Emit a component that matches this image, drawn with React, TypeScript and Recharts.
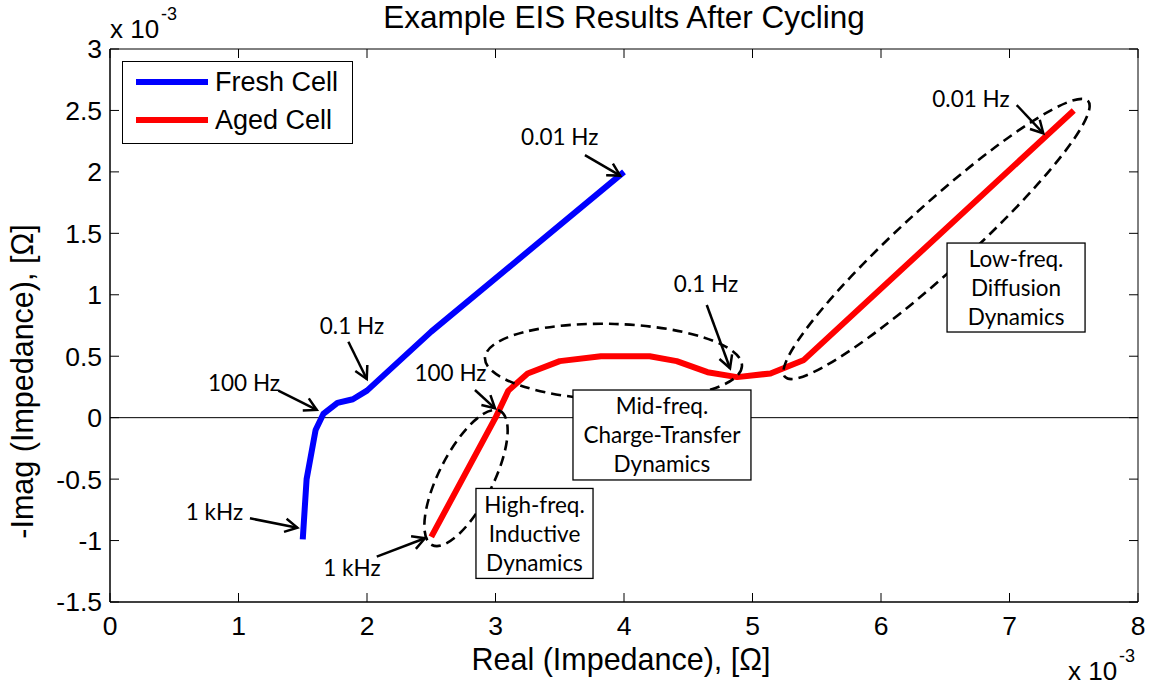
import React from 'react';
import { LineChart, Line, XAxis, YAxis, ReferenceLine, ReferenceDot, Legend } from 'recharts';

// Axis ticks (values in units of 1e-3 Ohm)
const xTicks = [0, 1, 2, 3, 4, 5, 6, 7, 8];
const yTicks = [-1.5, -1, -0.5, 0, 0.5, 1, 1.5, 2, 2.5, 3];

// Series names, in legend order
const seriesNames = ['Fresh Cell', 'Aged Cell'];

// Nyquist curves: real part vs. negative imaginary part
const freshCell = [
  { x: 1.5, y: -0.99 },
  { x: 1.53, y: -0.5 },
  { x: 1.6, y: -0.1 },
  { x: 1.66, y: 0.03 },
  { x: 1.77, y: 0.12 },
  { x: 1.89, y: 0.15 },
  { x: 2.0, y: 0.22 },
  { x: 2.5, y: 0.7 },
  { x: 4.0, y: 2.0 },
];

const agedCell = [
  { x: 2.5, y: -0.97 },
  { x: 3.0, y: 0.0 },
  { x: 3.1, y: 0.22 },
  { x: 3.25, y: 0.36 },
  { x: 3.5, y: 0.46 },
  { x: 3.82, y: 0.5 },
  { x: 4.2, y: 0.5 },
  { x: 4.41, y: 0.46 },
  { x: 4.65, y: 0.37 },
  { x: 4.88, y: 0.33 },
  { x: 5.14, y: 0.36 },
  { x: 5.26, y: 0.41 },
  { x: 5.4, y: 0.47 },
  { x: 7.5, y: 2.5 },
];

// Frequency call-outs (text centre, data units)
const freqLabels = [
  { text: '0.01 Hz', x: 3.5, y: 2.284 },
  { text: '0.1 Hz', x: 1.883, y: 0.754 },
  { text: '100 Hz', x: 1.043, y: 0.283 },
  { text: '1 kHz', x: 0.813, y: -0.767 },
  { text: '1 kHz', x: 1.883, y: -1.223 },
  { text: '100 Hz', x: 2.65, y: 0.364 },
  { text: '0.1 Hz', x: 4.638, y: 1.088 },
  { text: '0.01 Hz', x: 6.7, y: 2.601 },
];

// Arrows from each call-out to its point on the curve
const arrows = [
  { x1: 3.696, y1: 2.137, x2: 3.97, y2: 1.97 },
  { x1: 1.855, y1: 0.618, x2: 1.998, y2: 0.315 },
  { x1: 1.31, y1: 0.22, x2: 1.609, y2: 0.063 },
  { x1: 1.089, y1: -0.819, x2: 1.458, y2: -0.895 },
  { x1: 2.076, y1: -1.131, x2: 2.451, y2: -0.981 },
  { x1: 2.84, y1: 0.225, x2: 2.996, y2: 0.076 },
  { x1: 4.644, y1: 0.917, x2: 4.825, y2: 0.402 },
  { x1: 7.056, y1: 2.544, x2: 7.263, y2: 2.314 },
];

// Dashed regions: ends of the long axis in data units, half-width in px
const regions = [
  { x1: 2.506, y1: -1.036, x2: 3.035, y2: 0.054, halfWidth: 27 },
  { x1: 2.918, y1: 0.486, x2: 4.918, y2: 0.421, halfWidth: 38 },
  { x1: 5.253, y1: 0.331, x2: 7.611, y2: 2.577, halfWidth: 33 },
];

// Boxed descriptions of each frequency region
const notes = [
  { x1: 2.848, y1: -0.576, x2: 3.759, y2: -1.308, lines: ['High-freq.', 'Inductive', 'Dynamics'] },
  { x1: 3.603, y1: 0.225, x2: 4.988, y2: -0.507, lines: ['Mid-freq.', 'Charge-Transfer', 'Dynamics'] },
  { x1: 6.514, y1: 1.421, x2: 7.588, y2: 0.697, lines: ['Low-freq.', 'Diffusion', 'Dynamics'] },
];

const AXIS_FONT = '"Liberation Sans", Arial, sans-serif';
const NOTE_FONT = 'Lato, "Open Sans", sans-serif';
const NOTE_SIZE = 22.5;
const TICK_LEN = 9;

// Short inward tick stubs at both ends of a full-span reference line
const TickStubs = (p: any) => {
  const { x1, y1, x2, y2 } = p;
  const vertical = Math.abs(x2 - x1) < Math.abs(y2 - y1);
  if (vertical) {
    const top = Math.min(y1, y2);
    const bottom = Math.max(y1, y2);
    return (
      <g stroke="#000" strokeWidth={1}>
        <line x1={x1} y1={top} x2={x1} y2={top + TICK_LEN} />
        <line x1={x1} y1={bottom} x2={x1} y2={bottom - TICK_LEN} />
      </g>
    );
  }
  const left = Math.min(x1, x2);
  const right = Math.max(x1, x2);
  return (
    <g stroke="#000" strokeWidth={1}>
      <line x1={left} y1={y1} x2={left + TICK_LEN} y2={y1} />
      <line x1={right} y1={y1} x2={right - TICK_LEN} y2={y1} />
    </g>
  );
};

const ArrowShape = (p: any) => {
  const { x1, y1, x2, y2 } = p;
  const a = Math.atan2(y2 - y1, x2 - x1);
  const len = 14;
  const spread = 0.5;
  const hx1 = x2 - len * Math.cos(a - spread);
  const hy1 = y2 - len * Math.sin(a - spread);
  const hx2 = x2 - len * Math.cos(a + spread);
  const hy2 = y2 - len * Math.sin(a + spread);
  return (
    <g>
      <line x1={x1} y1={y1} x2={x2} y2={y2} stroke="#000" strokeWidth={2.5} />
      <polyline
        points={`${hx1},${hy1} ${x2},${y2} ${hx2},${hy2}`}
        fill="none"
        stroke="#000"
        strokeWidth={2.5}
      />
    </g>
  );
};

const makeEllipse = (halfWidth: number) => (p: any) => {
  const { x1, y1, x2, y2 } = p;
  const cx = (x1 + x2) / 2;
  const cy = (y1 + y2) / 2;
  const rx = Math.hypot(x2 - x1, y2 - y1) / 2;
  const ang = (Math.atan2(y2 - y1, x2 - x1) * 180) / Math.PI;
  return (
    <ellipse
      cx={cx}
      cy={cy}
      rx={rx}
      ry={halfWidth}
      transform={`rotate(${ang} ${cx} ${cy})`}
      fill="none"
      stroke="#000"
      strokeWidth={2.6}
      strokeDasharray="10 6"
    />
  );
};

const makeNote = (lines: string[]) => (p: any) => {
  const { x1, y1, x2, y2 } = p;
  const left = Math.min(x1, x2);
  const top = Math.min(y1, y2);
  const w = Math.abs(x2 - x1);
  const h = Math.abs(y2 - y1);
  const cx = left + w / 2;
  const cy = top + h / 2;
  const step = 29;
  return (
    <g>
      <rect x={left} y={top} width={w} height={h} fill="#fff" stroke="#000" strokeWidth={1.3} />
      {lines.map((t, i) => (
        <text
          key={i}
          x={cx}
          y={cy + (i - (lines.length - 1) / 2) * step}
          textAnchor="middle"
          dominantBaseline="central"
          fontFamily={NOTE_FONT}
          fontSize={NOTE_SIZE}
          fill="#000"
        >
          {t}
        </text>
      ))}
    </g>
  );
};

const makeText = (text: string) => (p: any) => (
  <text
    x={p.cx}
    y={p.cy}
    textAnchor="middle"
    dominantBaseline="central"
    fontFamily={NOTE_FONT}
    fontSize={NOTE_SIZE}
    fill="#000"
  >
    {text}
  </text>
);

const LegendBox = (props: any) => {
  const payload = [...(props.payload || [])].sort(
    (a: any, b: any) => seriesNames.indexOf(a.value) - seriesNames.indexOf(b.value)
  );
  return (
    <div
      style={{
        width: 231,
        height: 83,
        boxSizing: 'border-box',
        border: '1.5px solid #000',
        background: '#fff',
        paddingTop: 1,
        fontFamily: AXIS_FONT,
        fontSize: 27,
      }}
    >
      {payload.map((e: any, i: number) => (
        <div key={i} style={{ display: 'flex', alignItems: 'center', height: 38 }}>
          <svg width={92} height={38} style={{ flex: 'none' }}>
            <line x1={13} y1={19} x2={85} y2={19} stroke={e.color} strokeWidth={6} />
          </svg>
          <span style={{ color: '#000', whiteSpace: 'nowrap' }}>{e.value}</span>
        </div>
      ))}
    </div>
  );
};

const XTitle = (p: any) => {
  const vb = p.viewBox;
  return (
    <text
      x={vb.x + vb.width / 2 - 3}
      y={vb.y + 68}
      textAnchor="middle"
      fontFamily={AXIS_FONT}
      fontSize={30.5}
      fill="#000"
    >
      Real (Impedance), [Ω]
    </text>
  );
};

const YTitle = (p: any) => {
  const vb = p.viewBox;
  const x = vb.x + 22;
  const y = vb.y + vb.height / 2 + 56;
  return (
    <text
      x={x}
      y={y}
      transform={`rotate(-90 ${x} ${y})`}
      textAnchor="middle"
      dominantBaseline="central"
      fontFamily={AXIS_FONT}
      fontSize={30.5}
      fill="#000"
    >
      -Imag (Impedance), [Ω]
    </text>
  );
};

const noLabel = () => '';

export default function App() {
  const tickStyle = { fontSize: 26.5, fill: '#000', fontFamily: AXIS_FONT };
  return (
    <div style={{ position: 'absolute', left: 0, top: 0, width: 1153, height: 687, background: '#fff' }}>
      <LineChart
        width={1153}
        height={687}
        margin={{ top: 49, right: 15, bottom: 45, left: 0 }}
        style={{ fontFamily: AXIS_FONT }}
      >
        <XAxis
          type="number"
          dataKey="x"
          domain={[0, 8]}
          ticks={xTicks}
          height={40}
          tickLine={false}
          tickSize={6}
          tickMargin={8}
          axisLine={{ stroke: '#000', strokeWidth: 1.5 }}
          tick={tickStyle}
          label={<XTitle />}
        />
        <XAxis
          xAxisId="top"
          orientation="top"
          type="number"
          dataKey="x"
          domain={[0, 8]}
          ticks={xTicks}
          mirror
          tickFormatter={noLabel}
          tickLine={false}
          axisLine={{ stroke: '#000' }}
        />
        <YAxis
          type="number"
          dataKey="y"
          domain={[-1.5, 3]}
          ticks={yTicks}
          width={110}
          tickLine={false}
          tickSize={6}
          tickMargin={2}
          axisLine={{ stroke: '#000', strokeWidth: 1.5 }}
          tick={tickStyle}
          label={<YTitle />}
        />
        <YAxis
          yAxisId="right"
          orientation="right"
          type="number"
          dataKey="y"
          domain={[-1.5, 3]}
          ticks={yTicks}
          mirror
          tickFormatter={noLabel}
          tickLine={false}
          axisLine={{ stroke: '#000' }}
        />

        {xTicks.map((t) => (
          <ReferenceLine key={`xt${t}`} x={t} ifOverflow="visible" shape={TickStubs} />
        ))}
        {yTicks.map((t) => (
          <ReferenceLine key={`yt${t}`} y={t} ifOverflow="visible" shape={TickStubs} />
        ))}

        <ReferenceLine y={0} stroke="#000" strokeWidth={1} />

        <Line
          data={freshCell}
          dataKey="y"
          name={seriesNames[0]}
          type="linear"
          stroke="#0000ff"
          strokeWidth={6}
          strokeLinejoin="round"
          dot={false}
          isAnimationActive={false}
        />
        <Line
          data={agedCell}
          dataKey="y"
          name={seriesNames[1]}
          type="linear"
          stroke="#ff0000"
          strokeWidth={6}
          strokeLinejoin="round"
          dot={false}
          isAnimationActive={false}
        />

        {regions.map((r, i) => (
          <ReferenceLine
            key={`reg${i}`}
            segment={[{ x: r.x1, y: r.y1 }, { x: r.x2, y: r.y2 }]}
            ifOverflow="visible"
            shape={makeEllipse(r.halfWidth)}
          />
        ))}
        {notes.map((n, i) => (
          <ReferenceLine
            key={`note${i}`}
            segment={[{ x: n.x1, y: n.y1 }, { x: n.x2, y: n.y2 }]}
            ifOverflow="visible"
            shape={makeNote(n.lines)}
          />
        ))}
        {arrows.map((a, i) => (
          <ReferenceLine
            key={`arr${i}`}
            segment={[{ x: a.x1, y: a.y1 }, { x: a.x2, y: a.y2 }]}
            ifOverflow="visible"
            shape={ArrowShape}
          />
        ))}
        {freqLabels.map((l, i) => (
          <ReferenceDot key={`lbl${i}`} x={l.x} y={l.y} ifOverflow="visible" shape={makeText(l.text)} />
        ))}

        <Legend
          layout="vertical"
          align="center"
          verticalAlign="middle"
          wrapperStyle={{ left: 122, top: 61, width: 231, height: 83 }}
          content={<LegendBox />}
        />
      </LineChart>
      <svg
        width={1153}
        height={687}
        style={{ position: 'absolute', left: 0, top: 0, pointerEvents: 'none' }}
      >
        <text x={624} y={28} textAnchor="middle" fontFamily={AXIS_FONT} fontSize={31.5} fill="#000">
          Example EIS Results After Cycling
        </text>
        <text x={110} y={38} fontFamily={AXIS_FONT} fontSize={26} fill="#000">
          x 10
        </text>
        <text x={161} y={20} fontFamily={AXIS_FONT} fontSize={18} fill="#000">
          -3
        </text>
        <text x={1068} y={680} fontFamily={AXIS_FONT} fontSize={26} fill="#000">
          x 10
        </text>
        <text x={1119} y={662} fontFamily={AXIS_FONT} fontSize={18} fill="#000">
          -3
        </text>
      </svg>
    </div>
  );
}
